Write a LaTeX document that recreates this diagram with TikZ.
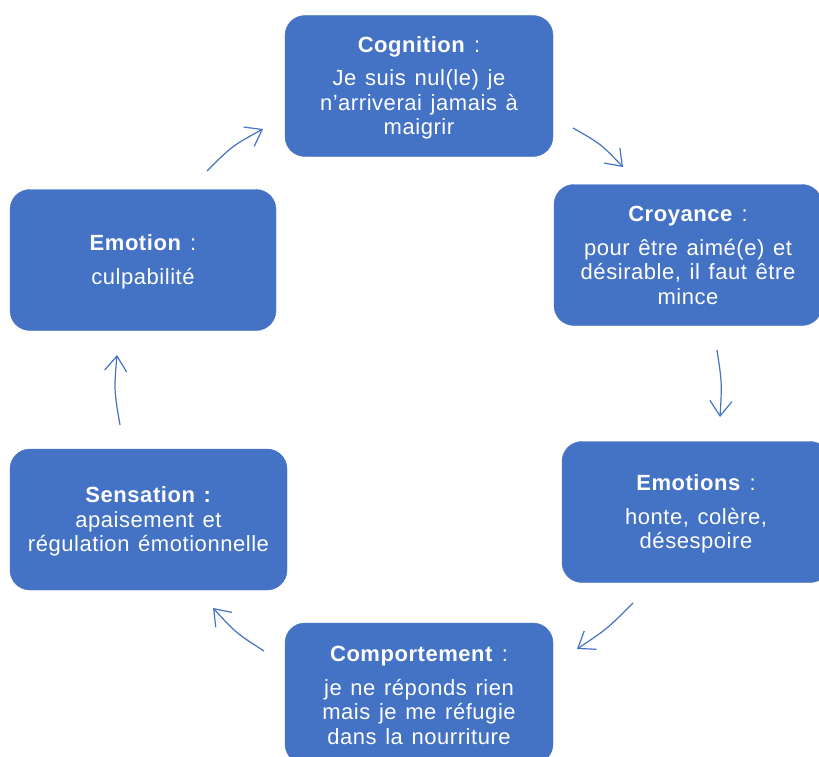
\documentclass[tikz,border=0pt]{standalone}
\usepackage{fontspec}
\setmainfont{Liberation Sans}[LetterSpace=2.5,WordSpace=1.3]
\usetikzlibrary{arrows.meta}
\definecolor{boxblue}{HTML}{4472C4}
\tikzset{
  box/.style={draw=boxblue, fill=boxblue, rounded corners=20pt,
    inner sep=0pt, minimum width=268pt, minimum height=141pt},
  txt/.style={text=white, align=center, inner sep=0pt, yshift=-2pt,
    font=\fontsize{22}{24.5}\selectfont},
  cyc/.style={draw=boxblue, line width=1.2pt, -{Straight Barb[length=15pt,width=22pt,line width=1.2pt]}}
}
\begin{document}
\begin{tikzpicture}[x=1pt,y=-1pt]
\clip (0,0) rectangle (819,757);
\fill[white] (0,0) rectangle (819,757);
\node[box] (cog) at (419,86) {};
\node[txt] (cogt) at (cog.center) {\textbf{Cognition} :\\[9pt]Je suis nul(le) je\\n’arriverai jamais à\\maigrir};
\node[box] (croy) at (688,255) {};
\node[txt, yshift=1.5pt] (croyt) at (croy.center) {\textbf{Croyance} :\\[9pt]pour être aimé(e) et\\désirable, il faut être\\mince};
\node[box] (emos) at (696,512) {};
\node[txt] (emost) at (emos.center) {\textbf{Emotions} :\\[9pt]honte, colère,\\désespoire};
\node[box] (comp) at (419,693.5) {};
\node[txt] (compt) at (comp.center) {\textbf{Comportement} :\\[9pt]je ne réponds rien\\mais je me réfugie\\dans la nourriture};
\node[box, minimum width=277pt] (sens) at (148.5,519.5) {};
\node[txt] (senst) at (sens.center) {\textbf{Sensation :}\\apaisement et\\régulation émotionnelle};
\node[box, minimum width=266pt] (emo) at (143,260) {};
\node[txt] (emot) at (emo.center) {\textbf{Emotion} :\\[9pt]culpabilité};
\coordinate (a1s) at (573,128); \coordinate (a1e) at (623,167);
\coordinate (a2s) at (717,350); \coordinate (a2e) at (720,417);
\coordinate (a3s) at (633,603); \coordinate (a3e) at (577,649);
\coordinate (a4s) at (264,651); \coordinate (a4e) at (213,608);
\coordinate (a5s) at (120,425); \coordinate (a5e) at (117,355);
\coordinate (a6s) at (207,171); \coordinate (a6e) at (263,129);
\draw[cyc] (a1s) .. controls (601,144) .. (a1e);
\draw[cyc] (a2s) .. controls (722,383) .. (a2e);
\draw[cyc] (a3s) .. controls (607,629) .. (a3e);
\draw[cyc] (a4s) .. controls (236,633) .. (a4e);
\draw[cyc] (a5s) .. controls (114,390) .. (a5e);
\draw[cyc] (a6s) .. controls (232,146) .. (a6e);
\end{tikzpicture}
\end{document}
